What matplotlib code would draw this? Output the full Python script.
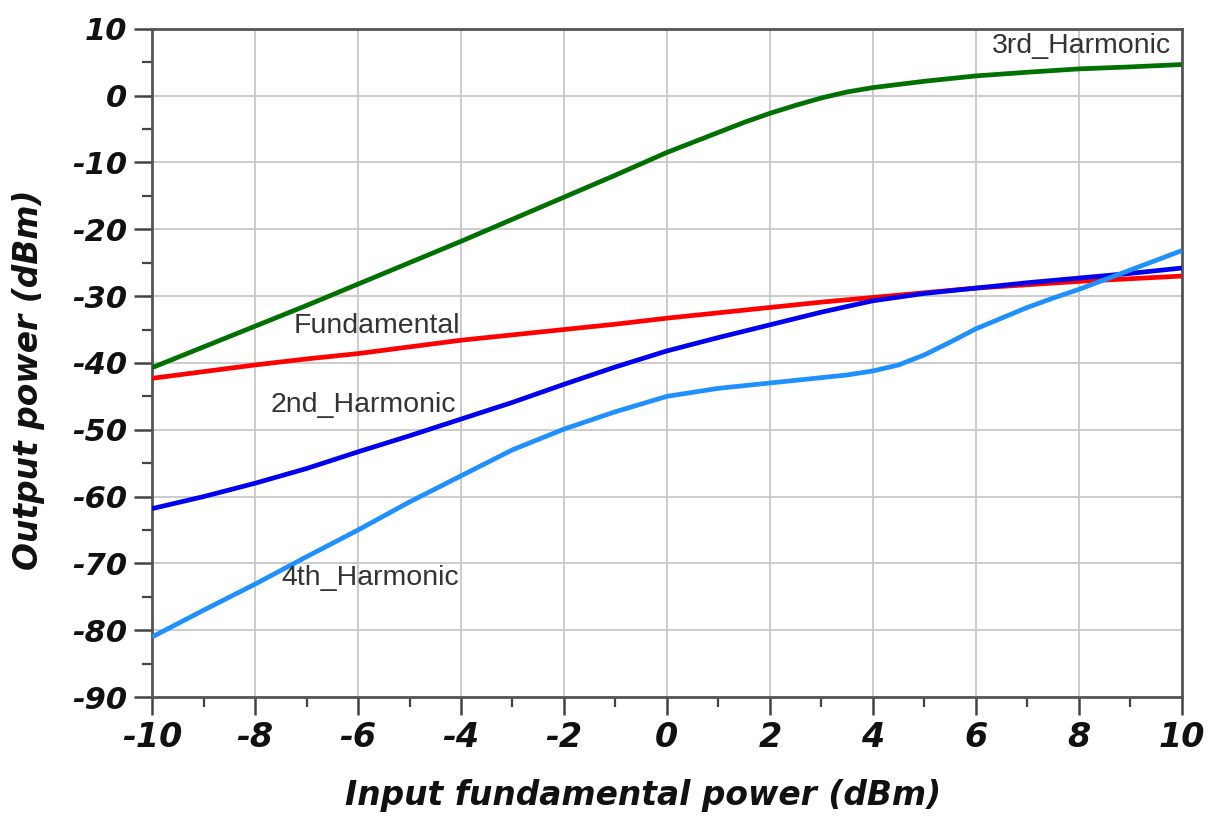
import matplotlib
matplotlib.use("Agg")
import matplotlib.pyplot as plt
from matplotlib.ticker import MultipleLocator

# ---- data ----
x_common = [-10, -9, -8, -7, -6, -5, -4, -3, -2, -1, 0, 1, 2, 3, 4, 5, 6, 7, 8, 9, 10]
fundamental = [-42.3, -41.3, -40.3, -39.4, -38.6, -37.6, -36.6, -35.8, -35.0, -34.2, -33.3,
               -32.5, -31.7, -30.9, -30.2, -29.5, -28.8, -28.3, -27.8, -27.4, -27.0]
harm2 = [-61.8, -60.0, -58.0, -55.8, -53.3, -50.9, -48.4, -45.9, -43.2, -40.6, -38.2,
         -36.2, -34.3, -32.4, -30.7, -29.6, -28.8, -28.0, -27.3, -26.6, -25.8]
x_h3 = [-10, -9, -8, -7, -6, -5, -4, -3, -2, -1, 0, 1, 1.5, 2, 2.5, 3, 3.5, 4, 5, 6, 7, 8, 9, 10]
harm3 = [-40.7, -37.6, -34.5, -31.4, -28.2, -25.0, -21.8, -18.5, -15.2, -11.9, -8.5,
         -5.5, -4.0, -2.65, -1.45, -0.35, 0.55, 1.2, 2.15, 2.95, 3.5, 4.0, 4.3, 4.65]
x_h4 = [-10, -9, -8, -7, -6, -5, -4, -3, -2, -1, 0, 1, 2, 3, 3.5, 4, 4.5, 5, 5.5, 6, 6.5, 7, 7.5, 8, 9, 10]
harm4 = [-81.0, -77.0, -73.1, -69.0, -65.0, -60.8, -56.9, -53.0, -49.9, -47.3, -45.0,
         -43.8, -43.0, -42.2, -41.8, -41.2, -40.3, -38.8, -36.9, -34.9, -33.3, -31.7, -30.3, -29.0, -26.1, -23.2]

x_ticks = [-10, -8, -6, -4, -2, 0, 2, 4, 6, 8, 10]
y_ticks = [10, 0, -10, -20, -30, -40, -50, -60, -70, -80, -90]

plt.rcParams['font.family'] = ['Liberation Sans', 'DejaVu Sans']
plt.rcParams['axes.unicode_minus'] = False

fig = plt.figure(figsize=(12.17, 8.23), dpi=100)
ax = fig.add_axes([0.125, 0.153, 0.846, 0.812])

lw = 3.4
ax.plot(x_h3, harm3, color='#007000', lw=lw, zorder=3, solid_capstyle='butt')
ax.plot(x_common, fundamental, color='#ff0000', lw=lw, zorder=3, solid_capstyle='butt')
ax.plot(x_common, harm2, color='#0000ee', lw=lw, zorder=4, solid_capstyle='butt')
ax.plot(x_h4, harm4, color='#1e90ff', lw=lw, zorder=5, solid_capstyle='butt')

ax.set_xlim(-10, 10)
ax.set_ylim(-90, 10)
ax.set_xticks(x_ticks)
ax.set_yticks(y_ticks)
ax.xaxis.set_minor_locator(MultipleLocator(1))
ax.yaxis.set_minor_locator(MultipleLocator(5))

ax.grid(True, which='major', color='#c8c8c8', lw=1.3, zorder=0)
ax.set_axisbelow(True)

for s in ax.spines.values():
    s.set_color('#555555')
    s.set_linewidth(2.0)

ax.tick_params(which='major', direction='out', length=13, width=1.8, color='#444444')
ax.tick_params(which='minor', direction='out', length=7, width=1.6, color='#444444')
ax.tick_params(axis='x', which='major', labelsize=24, pad=4)
ax.tick_params(axis='y', which='major', labelsize=22, pad=5)
tick_font = dict(family='DejaVu Sans', weight='bold', style='italic')
for lab in ax.get_xticklabels() + ax.get_yticklabels():
    lab.set_fontfamily('DejaVu Sans')
    lab.set_fontweight('bold')
    lab.set_fontstyle('italic')
    lab.set_color('#111111')

ax.set_xlabel('Input fundamental power (dBm)', fontsize=23.7, color='#111111', **tick_font)
ax.set_ylabel('Output power (dBm)', fontsize=23.7, color='#111111', **tick_font)
ax.xaxis.set_label_coords(0.477, -0.122)
ax.yaxis.set_label_coords(-0.104, 0.4746)

tkw = dict(fontsize=20.5, color='#333333', va='center', zorder=6)
ax.text(-7.26, -34.4, 'Fundamental', ha='left', **tkw)
ax.text(-7.7, -46.3, '2nd_Harmonic', ha='left', **tkw)
ax.text(-7.48, -72.2, '4th_Harmonic', ha='left', **tkw)
ax.text(9.8, 7.5, '3rd_Harmonic', ha='right', **tkw)

fig.savefig('out.png', dpi=100)
